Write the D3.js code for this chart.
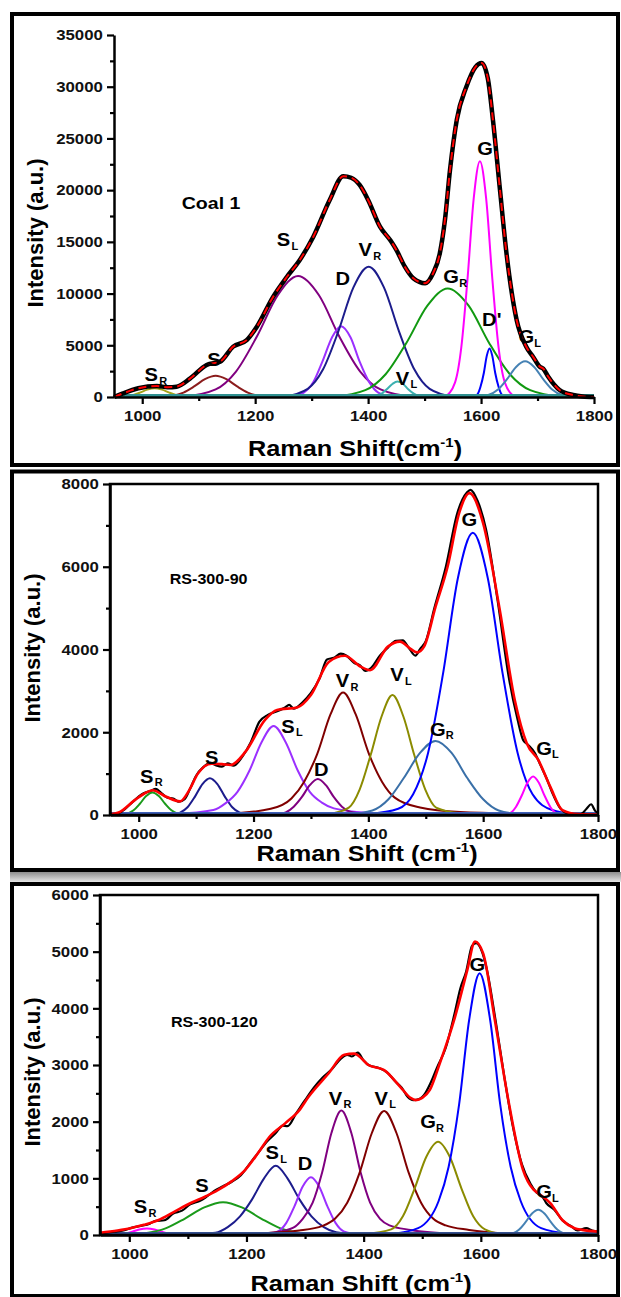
<!DOCTYPE html>
<html>
<head>
<meta charset="utf-8">
<script src="https://cdn.jsdelivr.net/npm/d3@7"></script>
<style>
  body { margin: 0; background: #fff; }
  svg { display: block; }
  text { font-family: "Liberation Sans", Arial, sans-serif; font-weight: bold; }
</style>
</head>
<body>
<div id="chart"></div>
<script>
// ---------------- data ----------------
// Coal 1
var coal1Bands = ["S_R", "S", "S_L", "D", "V_R", "V_L", "G_R", "G", "D'", "G_L"];
var coal1BandPoints = [
  [[949,0],[970,50],[983,180],[996,420],[1009,710],[1022,850],[1035,710],[1048,420],[1061,180],[1074,50],[1095,0]],
  [[1024,0],[1054,130],[1073,430],[1092,1020],[1111,1720],[1130,2050],[1149,1720],[1168,1020],[1187,430],[1206,130],[1236,0]],
  [[1072,0],[1130,730],[1166,2460],[1203,5850],[1240,9840],[1276,11700],[1313,9840],[1349,5850],[1386,2460],[1422,730],[1480,0]],
  [[1260,0],[1286,430],[1303,1440],[1319,3420],[1336,5760],[1352,6850],[1369,5760],[1385,3420],[1402,1440],[1418,430],[1444,0]],
  [[1250,0],[1293,790],[1320,2650],[1347,6300],[1374,10600],[1401,12600],[1428,10600],[1455,6300],[1482,2650],[1509,790],[1552,0]],
  [[1399,0],[1414,90],[1424,320],[1433,750],[1443,1260],[1452,1500],[1462,1260],[1471,750],[1481,320],[1490,90],[1505,0]],
  [[1337,0],[1395,660],[1431,2200],[1468,5250],[1505,8830],[1541,10500],[1578,8830],[1614,5250],[1651,2200],[1687,660],[1745,0]],
  [[1536,0],[1554,1420],[1565,4790],[1576,11400],[1587,19200],[1598,22800],[1609,19200],[1620,11400],[1631,4790],[1642,1420],[1660,0]],
  [[1586,0],[1594,290],[1599,990],[1605,2350],[1610,3950],[1615,4700],[1620,3950],[1625,2350],[1631,990],[1636,290],[1644,0]],
  [[1588,0],[1614,220],[1630,720],[1646,1720],[1662,2900],[1678,3450],[1694,2900],[1710,1720],[1726,720],[1742,220],[1768,0]]
];
var coal1Spectrum = [[950,0],[966,350],[993,840],[1026,1060],[1045,950],[1061,1000],[1085,1800],[1114,3100],
  [1138,3420],[1161,4870],[1185,5500],[1203,6800],[1232,9700],[1256,11600],[1279,13250],[1303,15500],
  [1332,19050],[1356,21350],[1370,21200],[1385,20500],[1400,19050],[1421,16470],[1440,15100],[1450,14220],
  [1465,12600],[1480,11480],[1501,11000],[1515,11960],[1527,13900],[1536,17100],[1545,21950],[1557,26800],
  [1574,30000],[1590,31900],[1601,32300],[1612,30800],[1621,26800],[1633,20300],[1645,13900],[1663,7450],
  [1680,4860],[1692,3900],[1704,2930],[1710,2750],[1719,1960],[1739,680],[1763,190],[1780,50],[1800,0]];

// RS-300-90
var rs90Bands = ["S_R", "S", "S_L", "D", "V_R", "V_L", "G_R", "G", "G_L"];
var rs90BandPoints = [
  [[965,0],[980,34],[991,114],[1002,272],[1013,458],[1024,545],[1035,458],[1046,272],[1057,114],[1068,34],[1083,0]],
  [[1054,0],[1072,56],[1085,187],[1098,445],[1111,748],[1124,890],[1137,748],[1150,445],[1163,187],[1176,56],[1194,0]],
  [[1060,20],[1130,120],[1151,280],[1172,560],[1193,1075],[1214,1760],[1235,2150],[1256,1760],[1277,1075],[1298,560],[1319,300],[1340,160],[1400,50],[1480,10]],
  [[1240,10],[1256,60],[1270,200],[1284,430],[1298,720],[1312,870],[1326,720],[1340,430],[1354,200],[1368,80],[1400,20],[1450,0]],
  [[1150,20],[1230,150],[1266,400],[1288,800],[1311,1480],[1334,2430],[1356,2960],[1378,2430],[1401,1480],[1424,800],[1446,420],[1490,180],[1560,70],[1700,20]],
  [[1330,20],[1366,180],[1385,620],[1404,1450],[1423,2380],[1442,2900],[1461,2380],[1480,1450],[1499,620],[1518,180],[1560,40],[1600,10]],
  [[1360,10],[1407,110],[1435,380],[1462,900],[1490,1500],[1517,1790],[1545,1500],[1572,900],[1600,380],[1627,110],[1660,30],[1720,0]],
  [[1400,20],[1452,150],[1478,500],[1504,1500],[1530,3410],[1556,5730],[1582,6820],[1608,5730],[1634,3410],[1660,1500],[1686,500],[1720,120],[1760,20]],
  [[1630,0],[1647,50],[1657,195],[1667,465],[1677,780],[1687,930],[1697,780],[1707,465],[1717,195],[1727,50],[1745,0]]
];
var rs90Measured = [[950,0],[970,80],[990,320],[1005,500],[1020,580],[1030,630],[1040,520],[1050,420],[1060,400],
  [1070,320],[1080,380],[1090,650],[1100,950],[1112,1150],[1125,1260],[1135,1200],[1145,1170],[1155,1250],
  [1165,1190],[1180,1400],[1195,1750],[1210,2250],[1225,2420],[1240,2500],[1255,2600],[1262,2660],[1270,2570],
  [1285,2720],[1300,2950],[1315,3300],[1328,3760],[1340,3800],[1352,3900],[1362,3850],[1375,3680],[1385,3620],
  [1395,3480],[1405,3560],[1420,3850],[1435,4060],[1448,4210],[1460,4220],[1470,4050],[1482,3850],[1490,4010],
  [1500,4200],[1515,5000],[1535,6000],[1555,7300],[1572,7800],[1578,7860],[1590,7600],[1605,6900],[1625,5200],
  [1645,3300],[1660,2300],[1670,1800],[1678,1700],[1690,1500],[1700,1200],[1710,900],[1720,550],[1735,150],
  [1750,30],[1770,20],[1780,150],[1788,260],[1795,100],[1800,50]];
var rs90Fit = [[950,20],[965,60],[993,360],[1010,520],[1024,600],[1048,440],[1072,330],[1088,600],[1103,1000],
  [1127,1240],[1145,1230],[1160,1210],[1186,1530],[1220,2300],[1241,2540],[1276,2600],[1300,2900],[1331,3700],
  [1359,3850],[1386,3590],[1403,3500],[1434,4070],[1455,4190],[1475,4000],[1485,3930],[1497,4070],[1517,5030],
  [1538,6000],[1558,7290],[1576,7780],[1600,7050],[1628,5030],[1655,2780],[1676,1730],[1696,1330],[1717,680],
  [1738,120],[1765,20],[1800,10]];

// RS-300-120
var rs120Bands = ["S_R", "S", "S_L", "D", "V_R", "V_L", "G_R", "G", "G_L"];
var rs120BandPoints = [
  [[960,0],[980,7],[992,24],[1005,58],[1017,97],[1030,115],[1043,97],[1055,58],[1068,24],[1080,7],[1100,0]],
  [[1000,8],[1030,36],[1063,122],[1095,290],[1128,487],[1160,580],[1192,487],[1225,290],[1257,122],[1290,36],[1330,8]],
  [[1100,10],[1147,40],[1168,140],[1189,330],[1209,620],[1230,1000],[1250,1220],[1270,1000],[1291,620],[1311,330],[1332,140],[1353,50],[1400,10]],
  [[1230,5],[1254,64],[1268,214],[1282,510],[1296,857],[1310,1020],[1324,857],[1338,510],[1352,214],[1366,64],[1395,5]],
  [[1200,15],[1250,50],[1280,130],[1296,285],[1313,570],[1329,1097],[1345,1800],[1362,2195],[1379,1800],[1395,1097],[1411,570],[1428,285],[1444,170],[1480,90],[1560,20]],
  [[1200,20],[1290,80],[1330,160],[1351,285],[1372,570],[1393,1095],[1414,1800],[1435,2190],[1456,1800],[1477,1095],[1498,570],[1519,285],[1540,170],[1580,90],[1660,20]],
  [[1400,15],[1447,100],[1467,330],[1487,820],[1507,1380],[1527,1645],[1547,1380],[1567,820],[1587,330],[1607,100],[1640,15],[1680,0]],
  [[1450,20],[1493,120],[1528,600],[1545,1200],[1563,2310],[1580,3790],[1598,4620],[1616,3790],[1633,2310],[1651,1200],[1668,600],[1703,120],[1750,20]],
  [[1630,0],[1654,28],[1665,94],[1676,223],[1687,375],[1698,445],[1709,375],[1720,223],[1731,94],[1742,28],[1770,0]]
];
var rs120Measured = [[950,30],[975,60],[990,80],[1005,130],[1020,160],[1035,200],[1045,250],[1060,260],[1075,380],
  [1090,430],[1104,540],[1120,600],[1130,660],[1145,780],[1160,860],[1175,940],[1190,1050],[1205,1250],[1220,1450],
  [1235,1650],[1250,1800],[1262,1930],[1270,1920],[1285,2150],[1300,2380],[1315,2600],[1330,2780],[1345,2920],
  [1360,3100],[1372,3180],[1380,3150],[1390,3220],[1400,3080],[1410,2990],[1425,2950],[1440,2870],[1455,2700],
  [1465,2600],[1475,2440],[1485,2380],[1495,2400],[1505,2500],[1515,2700],[1525,2950],[1540,3300],[1555,3900],
  [1565,4350],[1575,4650],[1585,5100],[1592,5150],[1600,5050],[1610,4700],[1625,3800],[1640,2800],[1655,1900],
  [1670,1250],[1685,900],[1695,750],[1705,680],[1712,560],[1725,450],[1740,250],[1755,150],[1765,80],[1780,120],
  [1790,80],[1800,60]];
var rs120Fit = [[950,40],[980,80],[1002,120],[1025,180],[1050,265],[1075,400],[1104,560],[1130,680],[1151,790],
  [1175,950],[1198,1150],[1220,1450],[1239,1730],[1266,1970],[1290,2200],[1306,2440],[1340,2850],[1367,3180],
  [1384,3200],[1396,3120],[1408,3000],[1435,2910],[1462,2620],[1480,2420],[1489,2380],[1500,2420],[1513,2560],
  [1530,3030],[1556,3850],[1577,4680],[1590,5180],[1604,4970],[1624,3790],[1648,2320],[1672,1150],[1690,800],
  [1698,735],[1719,560],[1739,265],[1760,120],[1773,90],[1800,60]];

var xTicks = [1000, 1200, 1400, 1600, 1800];
var xMinorTicks = [1100, 1300, 1500, 1700];

// ---------------- layout / style ----------------
var panels = [
  { frame: [12, 14, 606, 451], left: 114, right: 594, top: 35, bottom: 397,
    yMax: 35000, yStep: 5000, box: false, dashedFit: true,
    bands: coal1Bands, points: coal1BandPoints, measured: coal1Spectrum, fit: coal1Spectrum,
    colors: ["#a3a31a","#8b1c1c","#800080","#9b30ff","#1c1c8c","#3cb0b0","#119911","#ff00ff","#0000ff","#4682b4"],
    base: "#2f9090",
    labelPos: [[1016,2130],[1127,3580],[1250,15180],[1355,11480],[1395,14220],[1461,1800],[1547,11630],[1607,24050],[1619,7450],[1680,5830]],
    name: "Coal 1", namePos: [1070, 18760], xTitle: "Raman Shift(cm", titleX: 355, titleY: 456, yTitle: [35, 233] },
  { frame: [12, 471.5, 606, 398.5], left: 110, right: 598, top: 484, bottom: 815,
    yMax: 8000, yStep: 2000, box: true, dashedFit: false,
    bands: rs90Bands, points: rs90BandPoints, measured: rs90Measured, fit: rs90Fit,
    colors: ["#1a9a1a","#1c1c8c","#9b30ff","#800080","#800000","#8b8b00","#3a70a8","#0000ff","#ff00ff"],
    base: "#3d5fb8",
    labelPos: [[1014,930],[1127,1380],[1260,2150],[1318,1088],[1355,3246],[1450,3384],[1521,2071],[1576,7130],[1706,1612]],
    name: "RS-300-90", namePos: [1054, 5704], xTitle: "Raman Shift (cm", titleX: 367, titleY: 861, yTitle: [32, 648] },
  { frame: [12, 884, 606, 412], left: 100, right: 598, top: 895, bottom: 1235,
    yMax: 6000, yStep: 1000, box: true, dashedFit: false,
    bands: rs120Bands, points: rs120BandPoints, measured: rs120Measured, fit: rs120Fit,
    colors: ["#ff00ff","#1a9a1a","#1c1c8c","#9b30ff","#800080","#800000","#8b8b00","#0000ff","#4682b4"],
    base: "#34508f",
    labelPos: [[1019,500],[1124,882],[1244,1453],[1300,1265],[1352,2412],[1430,2412],[1510,2000],[1594,4765],[1708,765]],
    name: "RS-300-120", namePos: [1071, 3764], xTitle: "Raman Shift (cm", titleX: 361, titleY: 1291, yTitle: [32, 1072] }
];

var svg = d3.select("#chart").append("svg")
    .attr("width", 621)
    .attr("height", 1297);

// grey shadow strip between the 2nd and 3rd panel
var grad = svg.append("defs").append("linearGradient")
    .attr("id", "shade").attr("x1", 0).attr("x2", 0).attr("y1", 0).attr("y2", 1);
grad.append("stop").attr("offset", "0%").attr("stop-color", "#8c8c8c");
grad.append("stop").attr("offset", "100%").attr("stop-color", "#e6e6e6");
svg.append("rect").attr("x", 10).attr("y", 872).attr("width", 611).attr("height", 10).attr("fill", "url(#shade)");

panels.forEach(drawPanel);

function drawPanel(p) {
  var g = svg.append("g");

  g.append("rect")
      .attr("x", p.frame[0]).attr("y", p.frame[1])
      .attr("width", p.frame[2]).attr("height", p.frame[3])
      .attr("fill", "#fff").attr("stroke", "#000").attr("stroke-width", 4);

  var x = d3.scaleLinear().domain([950, 1800]).range([p.left, p.right]);
  var y = d3.scaleLinear().domain([0, p.yMax]).range([p.bottom, p.top]);

  var line = d3.line()
      .x(function(d) { return x(d[0]); })
      .y(function(d) { return y(d[1]); })
      .curve(d3.curveMonotoneX);

  // fitted bands
  p.points.forEach(function(pts, i) {
    g.append("path")
        .attr("d", line(pts))
        .attr("fill", "none")
        .attr("stroke", p.colors[i])
        .attr("stroke-width", 2);
  });

  // coloured zero line left by the band tails
  g.append("path")
      .attr("d", line([[950, 0], [1800, 0]]))
      .attr("transform", "translate(0,-1.5)")
      .attr("stroke", p.base).attr("stroke-width", 3);

  // measured spectrum + cumulative fit
  g.append("path")
      .attr("d", line(p.measured))
      .attr("fill", "none").attr("stroke", "#000")
      .attr("stroke-width", p.dashedFit ? 4.5 : 2.2);
  g.append("path")
      .attr("d", line(p.fit))
      .attr("fill", "none").attr("stroke", "#ff0000")
      .attr("stroke-width", p.dashedFit ? 2 : 2.6)
      .attr("stroke-dasharray", p.dashedFit ? "8,5" : null);

  // box
  if (p.box) {
    g.append("rect")
        .attr("x", p.left).attr("y", p.top)
        .attr("width", p.right - p.left).attr("height", p.bottom - p.top)
        .attr("fill", "none").attr("stroke", "#000").attr("stroke-width", 2.5);
  }

  // axes
  var yTicks = d3.range(0, p.yMax + 1, p.yStep);
  var yMinor = d3.range(p.yStep / 2, p.yMax, p.yStep);

  var xa = g.append("g").attr("transform", "translate(0," + p.bottom + ")")
      .call(d3.axisBottom(x).tickValues(xTicks).tickSize(7).tickSizeOuter(0).tickPadding(6).tickFormat(d3.format("d")));
  g.append("g").attr("transform", "translate(0," + p.bottom + ")")
      .call(d3.axisBottom(x).tickValues(xMinorTicks).tickSize(4).tickSizeOuter(0).tickFormat(""))
      .select(".domain").remove();
  var ya = g.append("g").attr("transform", "translate(" + p.left + ",0)")
      .call(d3.axisLeft(y).tickValues(yTicks).tickSize(7).tickSizeOuter(0).tickPadding(3).tickFormat(d3.format("d")));
  g.append("g").attr("transform", "translate(" + p.left + ",0)")
      .call(d3.axisLeft(y).tickValues(yMinor).tickSize(4).tickSizeOuter(0).tickFormat(""))
      .select(".domain").remove();

  g.selectAll(".domain").attr("stroke-width", 2.5);
  g.selectAll(".tick line").attr("stroke-width", 2.2);
  [xa, ya].forEach(function(a) {
    a.selectAll("text")
        .attr("font-size", 15)
        .attr("font-family", "'Liberation Sans', Arial, sans-serif")
        .attr("font-weight", "bold")
        .attr("fill", "#111")
        .attr("transform", "scale(1.12,1)");
  });

  // band labels
  p.bands.forEach(function(b, i) {
    var parts = b.split("_");
    var px = x(p.labelPos[i][0]), py = y(p.labelPos[i][1]);
    g.append("text")
        .attr("transform", "translate(" + px + "," + py + ") scale(1.12,1)")
        .attr("text-anchor", "middle")
        .attr("dy", "0.36em")
        .attr("font-size", 18)
        .text(parts[0]);
    if (parts[1]) {
      g.append("text")
          .attr("transform", "translate(" + (px + 8) + "," + (py + 6) + ")")
          .attr("dy", "0.36em")
          .attr("font-size", 11)
          .text(parts[1]);
    }
  });

  // sample name
  g.append("text")
      .attr("transform", "translate(" + x(p.namePos[0]) + "," + y(p.namePos[1]) + ") scale(1.15,1)")
      .attr("dy", "0.36em")
      .attr("font-size", p.name === "Coal 1" ? 17 : 14)
      .text(p.name);

  // axis titles
  var xt = g.append("text")
      .attr("transform", "translate(" + p.titleX + "," + p.titleY + ") scale(1.15,1)")
      .attr("text-anchor", "middle")
      .attr("font-size", 22);
  xt.append("tspan").text(p.xTitle);
  xt.append("tspan").attr("font-size", 13).attr("dy", -9).text("-1");
  xt.append("tspan").attr("dy", 9).text(")");

  g.append("text")
      .attr("transform", "translate(" + (p.yTitle[0] + 8) + "," + p.yTitle[1] + ") rotate(-90)")
      .attr("text-anchor", "middle")
      .attr("font-size", 22)
      .text("Intensity (a.u.)");
}
</script>
</body>
</html>
